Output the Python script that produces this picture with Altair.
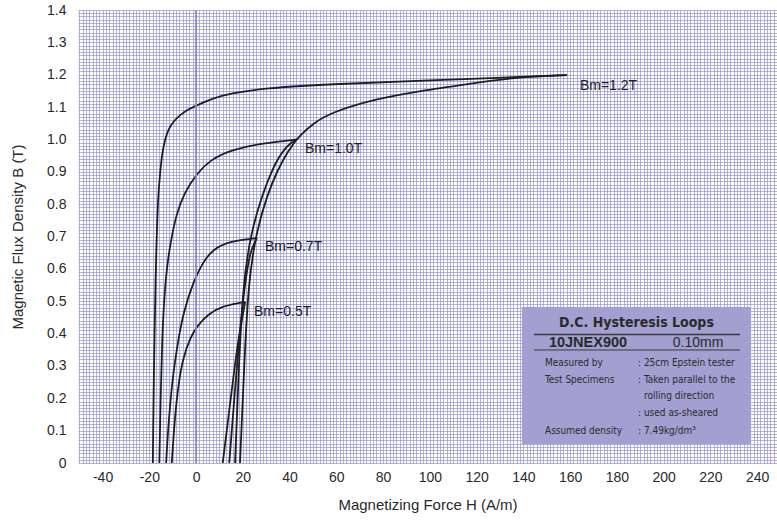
import altair as alt
import pandas as pd

# ---------------- values ----------------
# Each loop: descending branch (from -Hc at B=0 up to the tip) and
# ascending branch (from +Hc at B=0 up to the tip).  H in A/m, B in T.
B12_desc_H = [-18.5, -18.2, -17.75, -17.3, -16.9, -16.25, -15.4, -14.5, -13.3, -12.0, -9.84, -6.84, -3.85, 0.43, 7.27, 14.5, 28.7, 57.3, 95.8, 158.7]
B12_desc_B = [0.0, 0.195, 0.411, 0.566, 0.689, 0.822, 0.896, 0.958, 0.998, 1.029, 1.055, 1.075, 1.091, 1.106, 1.127, 1.142, 1.158, 1.171, 1.181, 1.199]
B12_asc_H = [18.8, 20.5, 22.4, 26.0, 30.2, 34.8, 39.5, 44.5, 50.5, 57.3, 76.6, 95.8, 117.2, 135.6, 158.7]
B12_asc_B = [0.0, 0.287, 0.566, 0.720, 0.823, 0.905, 0.967, 1.014, 1.051, 1.082, 1.125, 1.150, 1.172, 1.191, 1.199]

B10_desc_H = [-15.7, -15.2, -14.5, -13.7, -12.4, -10.7, -8.55, -5.13, 0.43, 5.99, 14.5, 28.7, 43.2]
B10_desc_B = [0.0, 0.195, 0.380, 0.504, 0.612, 0.689, 0.766, 0.834, 0.896, 0.936, 0.967, 0.989, 1.000]
B10_asc_H = [16.7, 18.2, 20.2, 23.8, 28.1, 32.4, 36.7, 40.9, 43.2]
B10_asc_B = [0.0, 0.287, 0.566, 0.720, 0.823, 0.905, 0.962, 0.993, 1.000]

B07_desc_H = [-12.8, -12.0, -10.9, -9.84, -8.13, -5.56, -0.86, 2.99, 7.27, 14.5, 26.1]
B07_desc_B = [0.0, 0.102, 0.195, 0.272, 0.358, 0.464, 0.566, 0.621, 0.661, 0.686, 0.695]
B07_asc_H = [14.2, 16.3, 18.4, 20.5, 23.1, 26.1]
B07_asc_B = [0.0, 0.195, 0.380, 0.535, 0.658, 0.695]

B05_desc_H = [-10.4, -9.6, -8.55, -7.27, -5.56, -2.57, 0.43, 5.13, 11.1, 21.0]
B05_desc_B = [0.0, 0.087, 0.179, 0.256, 0.324, 0.386, 0.423, 0.460, 0.485, 0.498]
B05_asc_H = [11.4, 13.7, 15.8, 18.0, 21.0]
B05_asc_B = [0.0, 0.133, 0.256, 0.380, 0.498]

loop_labels = ["Bm=1.2T", "Bm=1.0T", "Bm=0.7T", "Bm=0.5T"]
label_H = [164.2, 46.6, 29.5, 24.8]
label_B = [1.165, 0.970, 0.667, 0.467]

box_title = "D.C. Hysteresis Loops"
box_grade = "10JNEX900"
box_thick = "0.10mm"
box_keys = ["Measured by", "Test Specimens", "", "", "Assumed density"]
box_vals = [": 25cm Epstein tester", ": Taken parallel to the", "rolling direction", ": used as-sheared", ": 7.49kg/dm³"]

# ---------------- build table ----------------
branches = [
    ("1.2", "desc", B12_desc_H, B12_desc_B), ("1.2", "asc", B12_asc_H, B12_asc_B),
    ("1.0", "desc", B10_desc_H, B10_desc_B), ("1.0", "asc", B10_asc_H, B10_asc_B),
    ("0.7", "desc", B07_desc_H, B07_desc_B), ("0.7", "asc", B07_asc_H, B07_asc_B),
    ("0.5", "desc", B05_desc_H, B05_desc_B), ("0.5", "asc", B05_asc_H, B05_asc_B),
]
rows = []
for bm, br, hs, bs in branches:
    for i, (h, b) in enumerate(zip(hs, bs)):
        rows.append({"loop": bm + br, "H": h, "B": b, "i": i})
curves = pd.DataFrame(rows)
labels = pd.DataFrame({"text": loop_labels, "H": label_H, "B": label_B})

# grid positions (graph-paper look)
x_grid = [round(-50 + k * 20 / 14, 4) for k in range(209)]
y_grid = [round(k * 0.01, 2) for k in range(141)]

FONT = "Liberation Sans, Arial, Helvetica, sans-serif"
NARROW = "DejaVu Sans Condensed, Liberation Sans Narrow, sans-serif"
GRID = "#9591d4"
INK = "#1e1e1e"

xscale = alt.Scale(domain=[-50.5, 248.5], nice=False, zero=False)
yscale = alt.Scale(domain=[0, 1.4], nice=False, zero=True)

x_axis = alt.Axis(
    values=x_grid, tickCount=1000, grid=True, gridColor=GRID, gridWidth=0.7, gridOpacity=1,
    ticks=False, domain=False, labelOverlap=False, labelFlush=False, labelBound=False,
    labelExpr="abs(datum.value/20 - round(datum.value/20)) < 0.001 ? '' + round(datum.value) : ''",
    labelFont=FONT, labelFontSize=14, labelColor="#2a2a2a", labelPadding=7,
    titleFont=FONT, titleFontSize=15, titleFontWeight="normal", titleColor="#2a2a2a", titlePadding=13,
)
y_axis = alt.Axis(
    values=y_grid, tickCount=1000, grid=True, gridColor=GRID, gridWidth=0.7, gridOpacity=1,
    ticks=False, domain=False, labelOverlap=False, labelFlush=False, labelBound=False,
    labelExpr="abs(datum.value*10 - round(datum.value*10)) < 0.001 ? (datum.value == 0 ? '0' : format(datum.value, '.1f')) : ''",
    labelFont=FONT, labelFontSize=14, labelColor="#2a2a2a", labelPadding=12,
    titleFont=FONT, titleFontSize=15, titleFontWeight="normal", titleColor="#2a2a2a", titlePadding=21,
)

lines = alt.Chart(curves).mark_line(
    color=INK, strokeWidth=1.8, interpolate="basis"
).encode(
    x=alt.X("H:Q", scale=xscale, axis=x_axis, title="Magnetizing Force H (A/m)"),
    y=alt.Y("B:Q", scale=yscale, axis=y_axis, title="Magnetic Flux Density B (T)"),
    detail="loop:N",
    order="i:Q",
)

zero_line = alt.Chart(pd.DataFrame({"H": [0]})).mark_rule(
    color="#8a86cc", strokeWidth=1.8
).encode(x=alt.X("H:Q", scale=xscale))

label_layer = alt.Chart(labels).mark_text(
    align="left", baseline="middle", font=FONT, fontSize=14, color=INK
).encode(x=alt.X("H:Q", scale=xscale), y=alt.Y("B:Q", scale=yscale), text="text:N")

one = pd.DataFrame({"a": [0]})


def note(text, x, y, size=10, weight="normal", align="left", font=NARROW):
    return alt.Chart(one).mark_text(
        text=text, align=align, baseline="middle", font=font, fontSize=size,
        fontWeight=weight, color="#2a2a2a"
    ).encode(x=alt.value(x), y=alt.value(y))


# info box (pixel positions inside the plot area)
box = alt.Chart(one).mark_rect(color="#a39fd0").encode(
    x=alt.value(444), x2=alt.value(673), y=alt.value(297), y2=alt.value(434)
)
sep1 = alt.Chart(one).mark_rule(color="#3a3a3a", strokeWidth=1.5).encode(
    x=alt.value(456), x2=alt.value(662), y=alt.value(324.5)
)
sep2 = alt.Chart(one).mark_rule(color="#3a3a3a", strokeWidth=1.2).encode(
    x=alt.value(456), x2=alt.value(662), y=alt.value(340)
)
texts = [
    note(box_title, 558.5, 313, size=14, weight="bold", align="center"),
    note(box_grade, 510, 332.5, size=14.5, weight="bold", align="center", font=FONT),
    note(box_thick, 620, 332.5, size=14, align="center", font=FONT),
]
key_y = [352.7, 370, 385.7, 403.3, 421]
val_x = [560, 560, 566, 560, 560]
for k, v, yy, xx in zip(box_keys, box_vals, key_y, val_x):
    if k:
        texts.append(note(k, 467, yy))
    texts.append(note(v, xx, yy))

chart = alt.layer(lines, zero_line, label_layer, box, sep1, sep2, *texts).properties(
    width=699, height=453,
    autosize=alt.AutoSizeParams(type="none"),
    padding={"left": 78, "top": 10, "right": 0, "bottom": 57},
    background="white",
).configure_view(stroke="transparent")

chart.save("out.html", embed_options={"renderer": "svg", "actions": False})
